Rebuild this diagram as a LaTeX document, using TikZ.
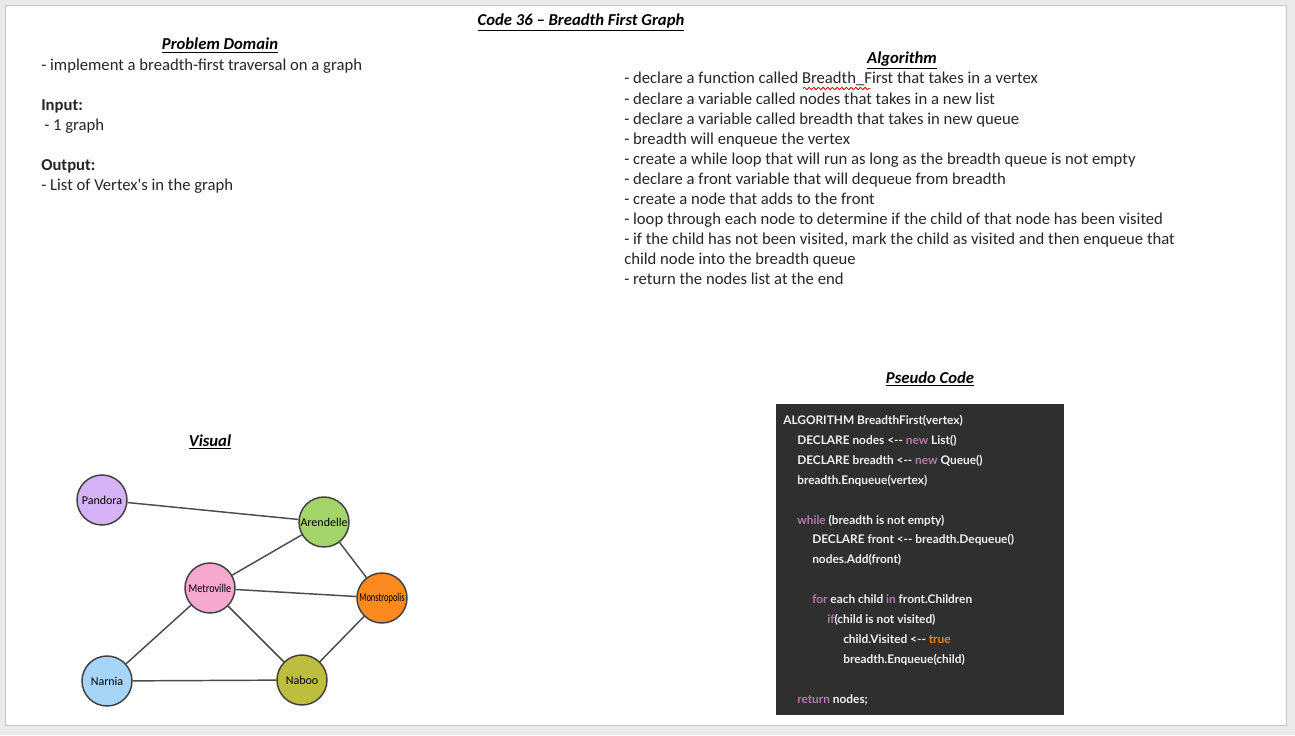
\documentclass[tikz,border=0pt]{standalone}
\usepackage{fontspec}
\setmainfont{Carlito}
\newfontfamily\codefont{Lato}
\usetikzlibrary{decorations.pathmorphing}
\definecolor{pagebg}{HTML}{EAEAEA}
\definecolor{pageedge}{HTML}{C6C6C6}
\definecolor{codebg}{HTML}{2F2F2F}
\definecolor{codetext}{HTML}{F2F2F2}
\definecolor{kw}{HTML}{B07AAE}
\definecolor{kwtrue}{HTML}{D9893A}
\definecolor{cPandora}{HTML}{D6B2F7}
\definecolor{cArendelle}{HTML}{A3D56B}
\definecolor{cMetro}{HTML}{F7A8CF}
\definecolor{cMonstro}{HTML}{FC8A1E}
\definecolor{cNarnia}{HTML}{A7D5F7}
\definecolor{cNaboo}{HTML}{BDBD3F}
\newcommand{\hd}[1]{\textbf{\textit{\underline{#1}}}}
\newcommand{\kwd}[1]{\textcolor{kw}{#1}}
\tikzset{
  txt/.style={anchor=base west, inner sep=0pt, font=\fontsize{12.5}{15}\selectfont, text=black!85},
  ttl/.style={anchor=base, inner sep=0pt, font=\fontsize{12.5}{15}\selectfont},
  code/.style={anchor=base west, inner sep=0pt, text=codetext, font=\codefont\bfseries\fontsize{8.9}{10}\selectfont},
  city/.style={circle, draw=black!75, line width=1.1pt, minimum size=37.5pt, inner sep=0pt, font=\fontsize{9}{10}\selectfont},
  edge/.style={draw=black!70, line width=1.1pt}
}
\begin{document}
\begin{tikzpicture}[x=0.75pt,y=-0.75pt]
\useasboundingbox (0,0) rectangle (1295,735);
\fill[pagebg] (0,0) rectangle (1295,735);
\draw[pageedge, fill=white] (5.5,5.5) rectangle (1286.5,725.5);

% titles
\node[ttl] (title) at (581,26) {\hd{Code 36 – Breadth First Graph}};
\node[ttl] (pdtitle) at (220,50) {\hd{Problem Domain}};
\node[txt] (pd1) at (41,70) {- implement a breadth-first traversal on a graph};
\node[txt] (in) at (41,110) {\textbf{Input:}};
\node[txt] (in1) at (44,130) {- 1 graph};
\node[txt] (out) at (41,170) {\textbf{Output:}};
\node[txt] (out1) at (41,190) {- List of Vertex\textquotesingle s in the graph};

% algorithm
\node[ttl] (algtitle) at (902,64) {\hd{Algorithm}};
\node[txt] (a1) at (624,84) {- declare a function called Breadth\_First that takes in a vertex};
\node[txt] (a2) at (624,104) {- declare a variable called nodes that takes in a new list};
\node[txt] (a3) at (624,124) {- declare a variable called breadth that takes in new queue};
\node[txt] (a4) at (624,144) {- breadth will enqueue the vertex};
\node[txt] (a5) at (624,164) {- create a while loop that will run as long as the breadth queue is not empty};
\node[txt] (a6) at (624,184) {- declare a front variable that will dequeue from breadth};
\node[txt] (a7) at (624,204) {- create a node that adds to the front};
\node[txt] (a8) at (624,224) {- loop through each node to determine if the child of that node has been visited};
\node[txt] (a9) at (624,244) {- if the child has not been visited, mark the child as visited and then enqueue that};
\node[txt] (a10) at (624,264) {child node into the breadth queue};
\node[txt] (a11) at (624,284) {- return the nodes list at the end};
\draw[red!85!black, line width=0.6pt, decorate, decoration={snake, segment length=3.5, amplitude=0.9}] (803,88.5) -- (870,88.5);

% pseudo code
\node[ttl] (pctitle) at (930,383) {\hd{Pseudo Code}};
\fill[codebg] (776,404) rectangle (1064,715);
\node[code] (c1) at (783,424) {ALGORITHM BreadthFirst(vertex)};
\node[code] (c2) at (797,444) {DECLARE nodes <-- \kwd{new} List()};
\node[code] (c3) at (797,464) {DECLARE breadth <-- \kwd{new} Queue()};
\node[code] (c4) at (797,484) {breadth.Enqueue(vertex)};
\node[code] (c5) at (797,524) {\kwd{while} (breadth is not empty)};
\node[code] (c6) at (812,543) {DECLARE front <-- breadth.Dequeue()};
\node[code] (c7) at (812,563) {nodes.Add(front)};
\node[code] (c8) at (812,603) {\kwd{for} each child \kwd{in} front.Children};
\node[code] (c9) at (827,623) {\kwd{if}(child is not visited)};
\node[code] (c10) at (843,643) {child.Visited <-- \textcolor{kwtrue}{true}};
\node[code] (c11) at (843,663) {breadth.Enqueue(child)};
\node[code] (c12) at (797,703) {\kwd{return} nodes;};

% visual
\node[ttl] (vistitle) at (210,446) {\hd{Visual}};
\node[city, fill=cPandora] (pandora) at (102,500) {Pandora};
\node[city, fill=cArendelle] (arendelle) at (324,522) {Arendelle};
\node[city, fill=cMetro] (metro) at (210,588) {\scalebox{0.85}[1]{Metroville}};
\node[city, fill=cMonstro] (monstro) at (382,598) {\scalebox{0.7}[1]{Monstropolis}};
\node[city, fill=cNarnia] (narnia) at (107,681) {Narnia};
\node[city, fill=cNaboo] (naboo) at (302,680) {Naboo};
\path[edge] (pandora) -- (arendelle);
\path[edge] (arendelle) -- (metro);
\path[edge] (arendelle) -- (monstro);
\path[edge] (metro) -- (monstro);
\path[edge] (metro) -- (narnia);
\path[edge] (metro) -- (naboo);
\path[edge] (monstro) -- (naboo);
\path[edge] (narnia) -- (naboo);
\end{tikzpicture}
\end{document}
